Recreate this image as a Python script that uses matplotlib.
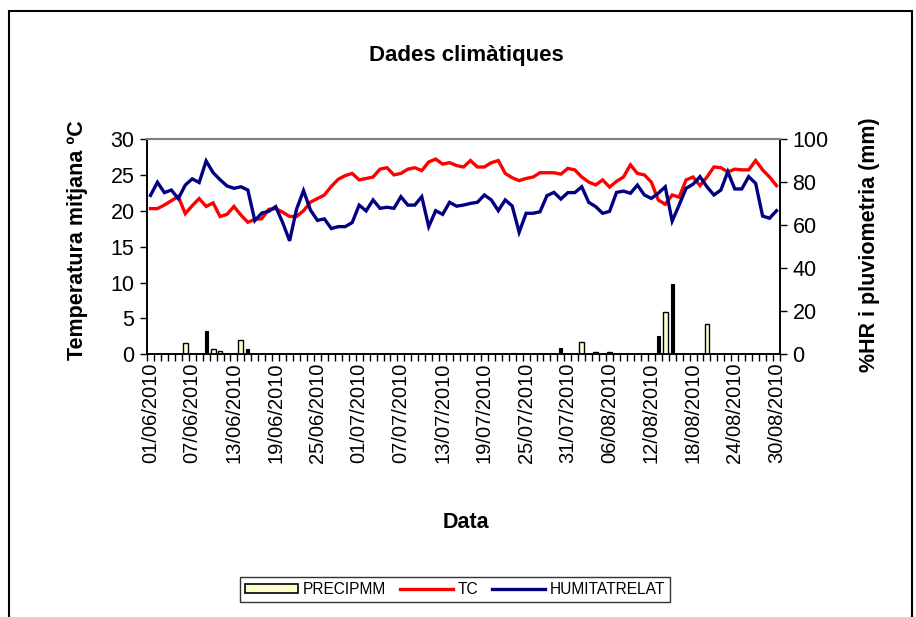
import numpy as np
import pandas as pd
import matplotlib
matplotlib.use("Agg")
import matplotlib.pyplot as plt
from matplotlib.patches import Rectangle, Patch
from matplotlib.lines import Line2D

plt.rcParams['font.family'] = ['Liberation Sans', 'DejaVu Sans']

# daily series, 01/06/2010 .. 30/08/2010
dates = pd.date_range("2010-06-01", "2010-08-30", freq="D")

tc = [20.3, 20.3, 20.8, 21.4, 22.0, 19.6, 20.7, 21.7, 20.6, 21.1,
      19.2, 19.5, 20.6, 19.4, 18.4, 18.8, 18.9, 20.2, 20.3, 19.8,
      19.2, 19.2, 20.0, 21.2, 21.7, 22.2, 23.4, 24.4, 24.9, 25.2,
      24.3, 24.5, 24.7, 25.8, 26.0, 25.0, 25.2, 25.8, 26.0, 25.6,
      26.8, 27.2, 26.5, 26.7, 26.3, 26.1, 27.0, 26.1, 26.1, 26.7,
      27.0, 25.2, 24.6, 24.2, 24.5, 24.7, 25.3, 25.3, 25.3, 25.1,
      25.9, 25.7, 24.7, 24.0, 23.6, 24.3, 23.3, 24.1, 24.7, 26.4,
      25.2, 25.0, 24.0, 21.5, 20.9, 22.2, 21.9, 24.3, 24.7, 23.5,
      24.7, 26.1, 26.0, 25.4, 25.8, 25.7, 25.7, 27.0, 25.7, 24.7,
      23.5]

humitat = [73.8, 79.9, 75.1, 76.3, 72.3, 78.6, 81.5, 79.8, 89.8, 84.4,
           81.1, 78.2, 77.1, 77.8, 76.3, 62.1, 65.6, 66.4, 68.6, 61.2,
           52.7, 67.4, 76.0, 67.0, 62.2, 62.9, 58.4, 59.3, 59.3, 61.2,
           69.3, 66.6, 71.7, 67.8, 68.3, 67.8, 73.2, 69.3, 69.3, 73.2,
           59.3, 66.7, 65.0, 70.6, 68.8, 69.3, 70.1, 70.6, 74.0, 71.7,
           66.7, 71.7, 68.9, 56.7, 65.5, 65.5, 66.2, 73.7, 75.2, 72.1,
           75.1, 75.1, 77.8, 70.6, 68.6, 65.5, 66.4, 75.2, 75.8, 74.8,
           78.6, 74.0, 72.4, 74.8, 77.8, 61.9, 69.3, 77.1, 79.0, 82.5,
           77.8, 74.0, 76.3, 84.8, 76.8, 76.8, 82.5, 79.4, 64.2, 63.2,
           66.7]

# rain days (day index -> mm)
rain_days = [5, 8, 9, 10, 13, 14, 52, 59, 62, 64, 66, 73, 74, 75, 80]
rain_mm = [5.4, 11.0, 2.6, 1.7, 6.5, 2.6, 0.8, 2.8, 5.6, 1.1, 1.1, 8.5, 19.5, 32.7, 14.2]
# bars that show up solid black in the original
dark_days = [8, 14, 52, 59, 73, 75]

precip = np.zeros(len(dates))
precip[rain_days] = rain_mm

x = np.arange(len(dates))
labels = [d.strftime("%d/%m/%Y") for d in dates]

fig = plt.figure(figsize=(9.16, 6.17), dpi=100)
ax = fig.add_axes([147 / 916, 1 - 354.3 / 617, (780 - 147) / 916, (354.3 - 139) / 617])
ax2 = ax.twinx()

# precipitation bars (right axis)
light = [i for i in rain_days if i not in dark_days]
ax2.bar(light, precip[light], width=0.7, color='#FFFFCC', edgecolor='black', linewidth=1.0, zorder=2)
ax2.bar(dark_days, precip[dark_days], width=0.45, color='black', edgecolor='black', linewidth=0.8, zorder=2)

ax.plot(x, tc, color='#FF0000', lw=2.4, zorder=3, solid_joinstyle='miter')
ax2.plot(x, humitat, color='#000080', lw=2.4, zorder=3, solid_joinstyle='miter')

ax.set_xlim(-0.5, len(dates) - 0.5)
ax.set_ylim(0, 30)
ax2.set_ylim(0, 100)
ax.set_yticks(range(0, 31, 5))
ax2.set_yticks(range(0, 101, 20))

ax.set_xticks(x[::6])
ax.set_xticklabels(labels[::6], rotation=90, fontsize=14.5)
ax.set_xticks(np.arange(-0.5, len(dates)), minor=True)
ax.tick_params(axis='x', which='major', length=0, pad=6)
ax.tick_params(axis='x', which='minor', length=5, width=1, direction='out', color='black')
ax.tick_params(axis='y', labelsize=15.5, length=5, width=1, direction='out', pad=4)
ax2.tick_params(axis='y', labelsize=15.5, length=5, width=1, direction='out', pad=4)

for a in (ax, ax2):
    a.spines['top'].set_color('#808080')
    a.spines['top'].set_linewidth(1.5)
    for s in ('left', 'right', 'bottom'):
        a.spines[s].set_color('black')
        a.spines[s].set_linewidth(1.2)

fig.text(466 / 916, 1 - 55 / 617, "Dades climàtiques", ha='center', va='center',
         fontsize=16, fontweight='bold')
fig.text(77 / 916, 1 - 240 / 617, "Temperatura mitjana ºC", rotation=90, ha='center',
         va='center', fontsize=15.5, fontweight='bold')
fig.text(870 / 916, 1 - 245 / 617, "%HR i pluviometria (mm)", rotation=90, ha='center',
         va='center', fontsize=15.5, fontweight='bold')
fig.text(466 / 916, 1 - 522 / 617, "Data", ha='center', va='center',
         fontsize=15.5, fontweight='bold')

handles = [Patch(facecolor='#FFFFCC', edgecolor='black', linewidth=1.2),
           Line2D([], [], color='#FF0000', lw=2.4),
           Line2D([], [], color='#000080', lw=2.4)]
leg = fig.legend(handles, ["PRECIPMM", "TC", "HUMITATRELAT"], loc='center',
                 bbox_to_anchor=(455 / 916, 1 - 589.5 / 617), ncol=3, fontsize=11.2,
                 frameon=True, fancybox=False, edgecolor='black', handlelength=3.4,
                 handleheight=0.5, columnspacing=0.9, handletextpad=0.3,
                 borderpad=0.35)
leg.get_frame().set_linewidth(1.0)

# chart border
fig.patches.append(Rectangle((9 / 916, -0.05), (912 - 9) / 916, (617 - 11) / 617 + 0.05,
                             transform=fig.transFigure, fill=False, edgecolor='black',
                             linewidth=1.5))

fig.savefig("out.png", dpi=100)
